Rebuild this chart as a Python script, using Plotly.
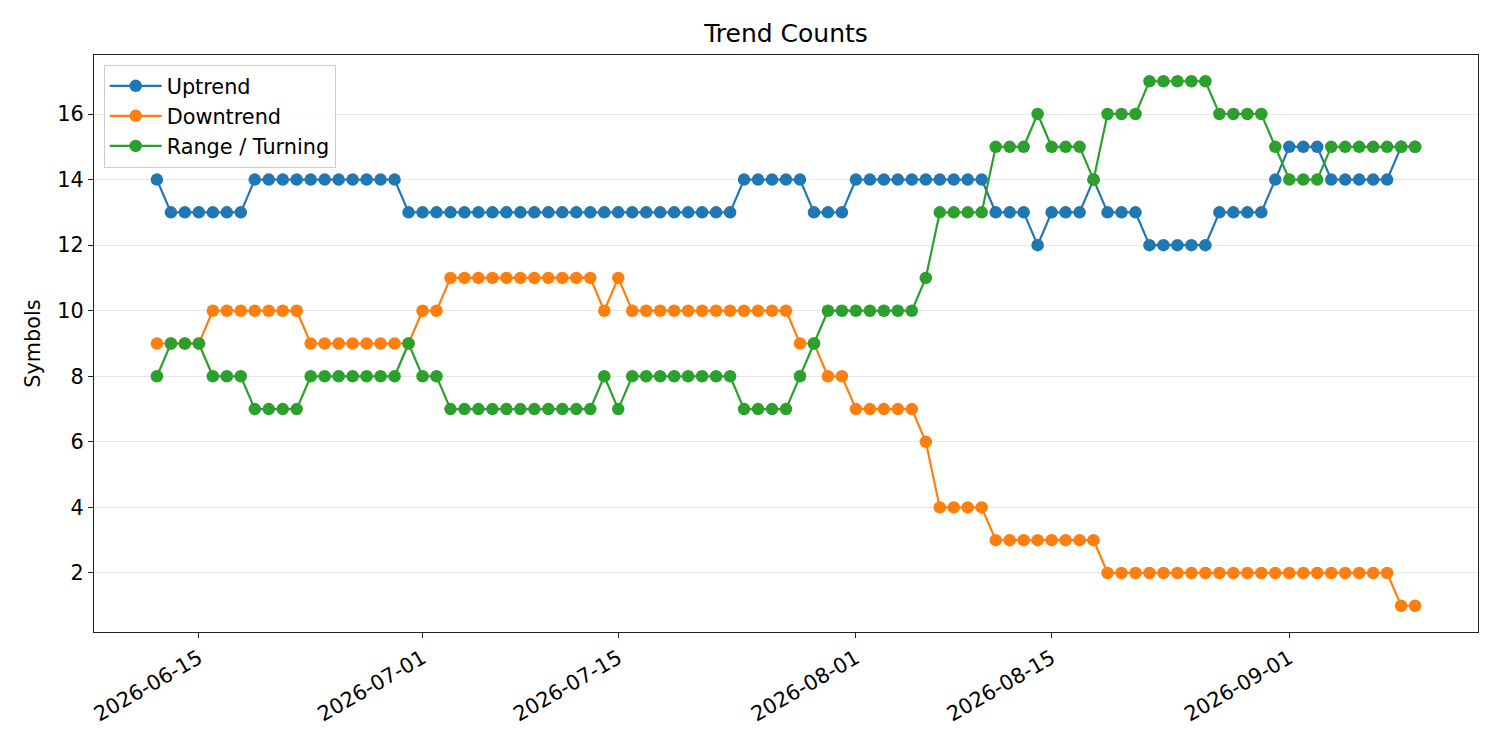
import pandas as pd
import plotly.graph_objects as go

# Daily trend counts (one value per day, starting 2026-06-12)
start_date = "2026-06-12"
uptrend = [
    14, 13, 13, 13, 13, 13, 13, 14, 14, 14, 14, 14, 14, 14, 14, 14, 14, 14,
    13, 13, 13, 13, 13, 13, 13, 13, 13, 13, 13, 13, 13, 13, 13, 13, 13, 13,
    13, 13, 13, 13, 13, 13, 14, 14, 14, 14, 14, 13, 13, 13, 14, 14, 14, 14,
    14, 14, 14, 14, 14, 14, 13, 13, 13, 12, 13, 13, 13, 14, 13, 13, 13, 12,
    12, 12, 12, 12, 13, 13, 13, 13, 14, 15, 15, 15, 14, 14, 14, 14, 14, 15,
    15,
]
downtrend = [
    9, 9, 9, 9, 10, 10, 10, 10, 10, 10, 10, 9, 9, 9, 9, 9, 9, 9,
    9, 10, 10, 11, 11, 11, 11, 11, 11, 11, 11, 11, 11, 11, 10, 11, 10, 10,
    10, 10, 10, 10, 10, 10, 10, 10, 10, 10, 9, 9, 8, 8, 7, 7, 7, 7,
    7, 6, 4, 4, 4, 4, 3, 3, 3, 3, 3, 3, 3, 3, 2, 2, 2, 2,
    2, 2, 2, 2, 2, 2, 2, 2, 2, 2, 2, 2, 2, 2, 2, 2, 2, 1,
    1,
]
range_turning = [
    8, 9, 9, 9, 8, 8, 8, 7, 7, 7, 7, 8, 8, 8, 8, 8, 8, 8,
    9, 8, 8, 7, 7, 7, 7, 7, 7, 7, 7, 7, 7, 7, 8, 7, 8, 8,
    8, 8, 8, 8, 8, 8, 7, 7, 7, 7, 8, 9, 10, 10, 10, 10, 10, 10,
    10, 11, 13, 13, 13, 13, 15, 15, 15, 16, 15, 15, 15, 14, 16, 16, 16, 17,
    17, 17, 17, 17, 16, 16, 16, 16, 15, 14, 14, 14, 15, 15, 15, 15, 15, 15,
    15,
]
date_ticks = ["2026-06-15", "2026-07-01", "2026-07-15", "2026-08-01", "2026-08-15", "2026-09-01"]

dates = pd.date_range(start_date, periods=len(uptrend), freq="D")

series = [
    ("Uptrend", uptrend, "#1f77b4"),
    ("Downtrend", downtrend, "#ff7f0e"),
    ("Range / Turning", range_turning, "#2ca02c"),
]

font_family = "DejaVu Sans, Arial, sans-serif"
base_size = 20.8  # 10pt at 150 dpi

fig = go.Figure()
for name, values, color in series:
    fig.add_trace(go.Scatter(
        x=dates, y=values, name=name, mode="lines+markers",
        line=dict(color=color, width=2.2),
        marker=dict(color=color, size=12.5),
    ))

# the page body adds ~8px offset, margins below compensate for it
fig.update_layout(
    width=1500, height=750,
    paper_bgcolor="white", plot_bgcolor="white",
    margin=dict(l=86, r=30, t=47, b=126),
    font=dict(family=font_family, size=base_size, color="black"),
    title=dict(text="Trend Counts", x=0.5, xref="paper", xanchor="center",
               y=1 - 25 / 750, yanchor="middle", font=dict(size=25)),
    showlegend=True,
    legend=dict(
        x=0.007, y=0.983, xanchor="left", yanchor="top",
        bgcolor="rgba(255,255,255,0.8)", bordercolor="#cccccc", borderwidth=1,
        font=dict(size=base_size), itemwidth=52,
    ),
)
fig.update_xaxes(
    range=["2026-06-07 12:00", "2026-09-14 12:00"],
    tickvals=date_ticks, tickformat="%Y-%m-%d", tickangle=-30,
    showgrid=False, zeroline=False, automargin=False,
    showline=True, linecolor="#222222", linewidth=1.2, mirror=True,
    ticks="outside", ticklen=5, tickcolor="#222222",
    tickfont=dict(size=base_size),
)
fig.update_yaxes(
    range=[0.2, 17.8], dtick=2, tick0=0,
    title=dict(text="Symbols", standoff=10, font=dict(size=base_size)),
    showgrid=True, gridcolor="#e8e8e8", gridwidth=1, zeroline=False, automargin=False,
    showline=True, linecolor="#222222", linewidth=1.2, mirror=True,
    ticks="outside", ticklen=5, tickcolor="#222222",
    tickfont=dict(size=base_size),
)

fig.write_html("out.html")
